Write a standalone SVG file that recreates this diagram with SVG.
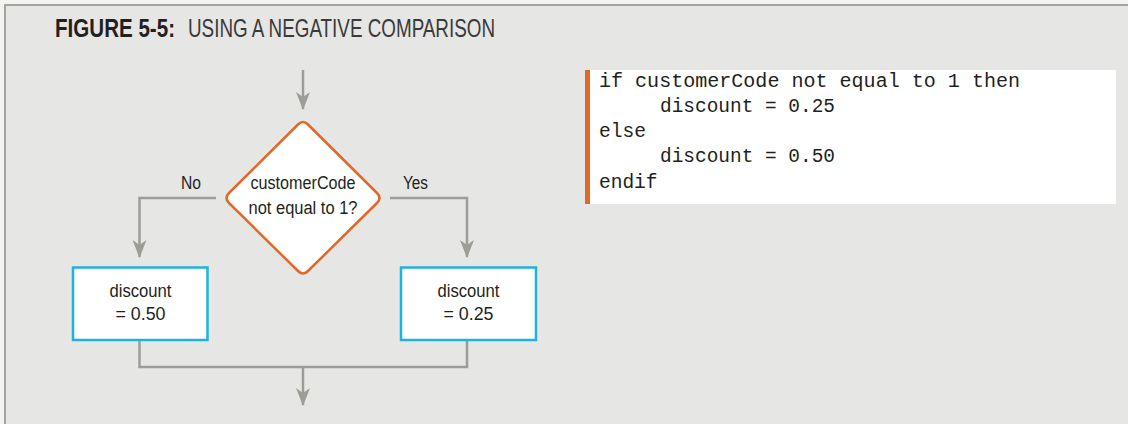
<svg xmlns="http://www.w3.org/2000/svg" width="1128" height="424" viewBox="0 0 1128 424">
<defs>
<style>
.conn{fill:none;stroke:#9d9c96;stroke-width:2.5}
.box{fill:#ffffff;stroke:#1eb3d8;stroke-width:2.5}
.dia{fill:#ffffff;stroke:#e0692a;stroke-width:2.5}
.lbl{font-family:"Liberation Sans",Arial,sans-serif;font-size:18px;fill:#231f20}
.mid{text-anchor:middle}
.code{font-family:"Liberation Mono","Courier New",monospace;font-size:19.5px;fill:#231f20}
.ttl{font-family:"Liberation Sans",Arial,sans-serif;font-size:25.5px}
</style>
<marker id="arr" markerUnits="userSpaceOnUse" viewBox="0 0 18 14" markerWidth="18" markerHeight="14" refX="17" refY="7" orient="auto">
<path d="M0,0 L18,7 L0,14 L5,7 Z" fill="#9d9c96"/>
</marker>
</defs>
<rect x="0" y="0" width="1128" height="424" fill="#f3f3f1"/>
<rect x="5" y="5" width="1123" height="419" fill="#e6e6e4"/>
<path d="M4,5 H1128 M5,4 V424" fill="none" stroke="#a3a29c" stroke-width="2"/>
<g id="title">
<text class="ttl" transform="translate(55,37) scale(0.806,1)" x="0" y="0" font-weight="bold" fill="#231f20" textLength="148.9" lengthAdjust="spacingAndGlyphs">FIGURE 5-5:</text>
<text class="ttl" transform="translate(188,37) scale(0.727,1)" x="0" y="0" fill="#3a3a3a" textLength="422.3" lengthAdjust="spacingAndGlyphs">USING A NEGATIVE COMPARISON</text>
</g>
<g id="connectors">
<path class="conn" d="M303,70 V109" marker-end="url(#arr)"/>
<path class="conn" d="M216,198 H139.5 V257" marker-end="url(#arr)"/>
<path class="conn" d="M390,198 H467 V257" marker-end="url(#arr)"/>
<path class="conn" d="M139.5,341 V367 H467 V341"/>
<path class="conn" d="M303,367 V405" marker-end="url(#arr)"/>
<text class="lbl" x="181" y="188.5" textLength="20" lengthAdjust="spacingAndGlyphs">No</text>
<text class="lbl" x="403" y="188.5" textLength="25" lengthAdjust="spacingAndGlyphs">Yes</text>
</g>
<g id="decision">
<path class="dia" d="M298,124.5 Q303,119.5 308,124.5 L377,193 Q382,198 377,203 L308,271 Q303,276 298,271 L229,203 Q224,198 229,193 Z"/>
<text class="lbl mid" x="303" y="188.5" textLength="105" lengthAdjust="spacingAndGlyphs">customerCode</text>
<text class="lbl mid" x="303" y="213.5" textLength="109" lengthAdjust="spacingAndGlyphs">not equal to 1?</text>
</g>
<g id="box-no">
<rect class="box" x="73" y="267.5" width="134.5" height="72.5"/>
<text class="lbl mid" x="140.5" y="297" textLength="62" lengthAdjust="spacingAndGlyphs">discount</text>
<text class="lbl mid" x="140.5" y="319.5" textLength="50" lengthAdjust="spacingAndGlyphs">= 0.50</text>
</g>
<g id="box-yes">
<rect class="box" x="401" y="267.5" width="135" height="72.5"/>
<text class="lbl mid" x="468.5" y="297" textLength="62" lengthAdjust="spacingAndGlyphs">discount</text>
<text class="lbl mid" x="468.5" y="319.5" textLength="50" lengthAdjust="spacingAndGlyphs">= 0.25</text>
</g>
<g id="pseudocode">
<rect x="585" y="70" width="531" height="134" fill="#ffffff"/>
<rect x="585" y="70" width="5" height="134" fill="#e0692a"/>
<text class="code" x="599" y="86.5" textLength="421" lengthAdjust="spacingAndGlyphs">if customerCode not equal to 1 then</text>
<text class="code" x="660" y="111.5" textLength="175" lengthAdjust="spacingAndGlyphs">discount = 0.25</text>
<text class="code" x="599" y="137" textLength="47" lengthAdjust="spacingAndGlyphs">else</text>
<text class="code" x="660" y="162" textLength="175" lengthAdjust="spacingAndGlyphs">discount = 0.50</text>
<text class="code" x="599" y="187.5" textLength="58.5" lengthAdjust="spacingAndGlyphs">endif</text>
</g>
</svg>
